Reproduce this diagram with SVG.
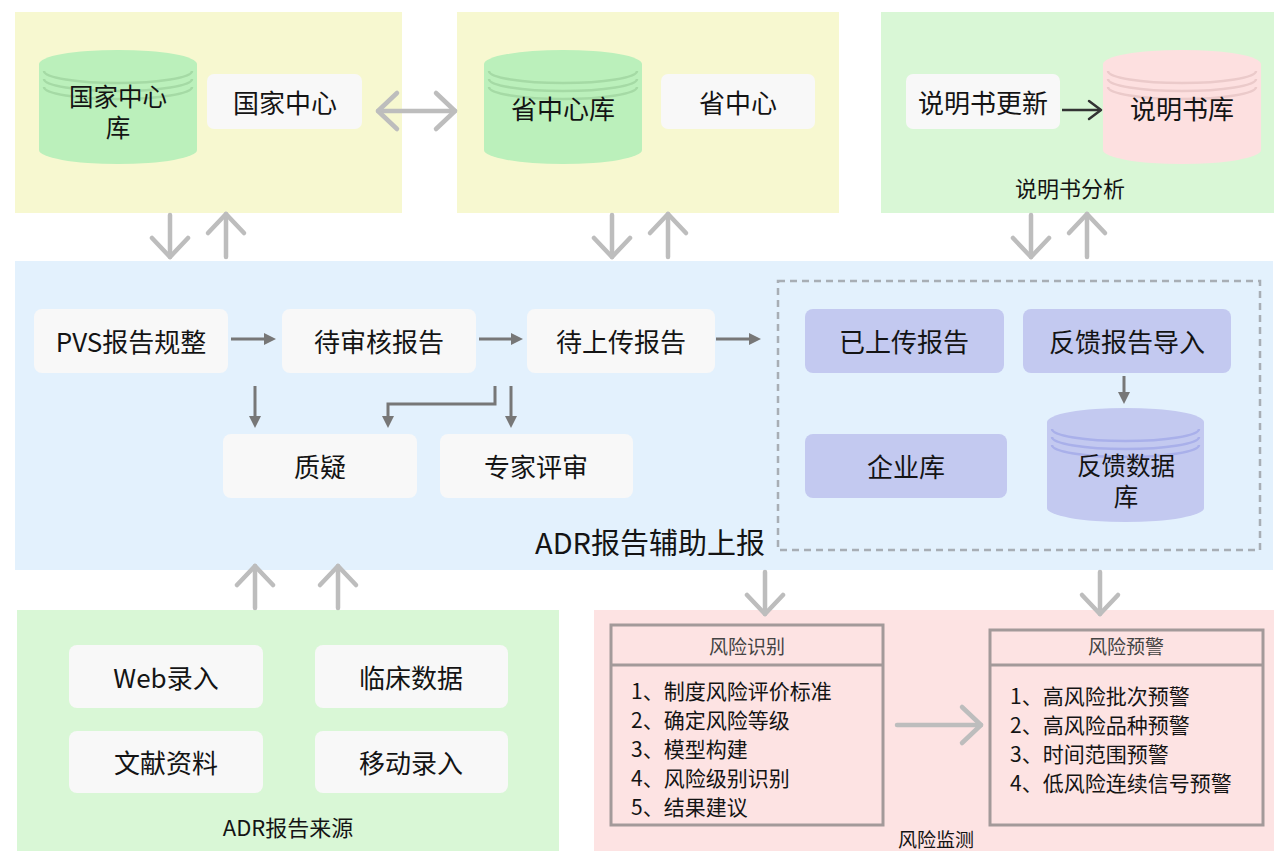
<svg xmlns="http://www.w3.org/2000/svg" width="1274" height="851" viewBox="0 0 1274 851">
<defs>
<style>
text{font-family:"Noto Sans CJK SC","Noto Sans",sans-serif;fill:#141414;dominant-baseline:central;text-anchor:middle}
.t{font-size:26px}
.c{font-size:24.5px}
.lbl{font-size:22px}
.item{font-size:21px;text-anchor:start}
.hdr{font-size:19px;fill:#444}
.box{fill:#f8f8f8}
.pbox{fill:#c3c9f0}
.big{fill:none;stroke:#bdbdbd;stroke-width:4.5;stroke-linecap:round}
.thin{fill:none;stroke:#777;stroke-width:3}
.rbox{fill:none;stroke:#a39a9a;stroke-width:3}
</style>
<marker id="chev" viewBox="-24 -24 28 48" refX="0" refY="0" markerWidth="28" markerHeight="48" markerUnits="userSpaceOnUse" orient="auto-start-reverse" overflow="visible">
<path d="M-19,-18 L0,0 L-19,18" fill="none" stroke="#bdbdbd" stroke-width="4.5" stroke-linecap="round" stroke-linejoin="round"/>
</marker>
<marker id="chevDark" viewBox="-16 -12 20 24" refX="0" refY="0" markerWidth="20" markerHeight="24" markerUnits="userSpaceOnUse" orient="auto" overflow="visible">
<path d="M-12,-9 L0,0 L-12,9" fill="none" stroke="#333" stroke-width="2.5" stroke-linecap="round" stroke-linejoin="round"/>
</marker>
<marker id="tri" viewBox="0 0 12 12" refX="4" refY="6" markerWidth="12" markerHeight="12" markerUnits="userSpaceOnUse" orient="auto">
<path d="M0,0 L12,6 L0,12 z" fill="#777"/>
</marker>
</defs>

<!-- panels -->
<g id="panel-national"><rect x="15" y="12" width="387" height="201" fill="#f7f8d0"/></g>
<g id="panel-province"><rect x="457" y="12" width="382" height="201" fill="#f7f8d0"/></g>
<g id="panel-manual"><rect x="881" y="12" width="393" height="201" fill="#d9f7d6"/>
<text class="lbl" x="1070" y="187">说明书分析</text></g>
<g id="panel-adr"><rect x="15" y="261" width="1258" height="309" fill="#e3f1fd"/>
<text x="765" y="541" style="font-size:29px;text-anchor:end">ADR报告辅助上报</text></g>
<g id="panel-source"><rect x="17" y="610" width="542" height="241" fill="#d9f7d6"/>
<text class="lbl" x="288" y="826">ADR报告来源</text></g>
<g id="panel-risk"><rect x="594" y="610" width="680" height="241" fill="#fde3e3"/>
<text x="936" y="838" style="font-size:19px">风险监测</text></g>

<!-- cylinders -->
<g id="db-national">
<path d="M39,64 A79,14 0 0 1 197,64 V150 A79,14 0 0 1 39,150 Z" fill="#bbf0bb"/>
<g fill="none" stroke="#a5daa5" stroke-width="2.5"><path d="M44,71 A74,12 0 0 0 192,71"/><path d="M44,79 A74,12 0 0 0 192,79"/><path d="M44,87 A74,12 0 0 0 192,87"/></g>
<text class="c"><tspan x="118" y="95">国家中心</tspan><tspan x="118" y="126">库</tspan></text>
</g>
<g id="db-province">
<path d="M484,64 A79,14 0 0 1 642,64 V150 A79,14 0 0 1 484,150 Z" fill="#bbf0bb"/>
<g fill="none" stroke="#a5daa5" stroke-width="2.5"><path d="M489,71 A74,12 0 0 0 637,71"/><path d="M489,79 A74,12 0 0 0 637,79"/><path d="M489,87 A74,12 0 0 0 637,87"/></g>
<text class="t" x="563" y="107">省中心库</text>
</g>
<g id="db-manual">
<path d="M1103,64 A79,14 0 0 1 1261,64 V150 A79,14 0 0 1 1103,150 Z" fill="#fde0e0"/>
<g fill="none" stroke="#ebcaca" stroke-width="2.5"><path d="M1108,71 A74,12 0 0 0 1256,71"/><path d="M1108,79 A74,12 0 0 0 1256,79"/><path d="M1108,87 A74,12 0 0 0 1256,87"/></g>
<text class="t" x="1182" y="107">说明书库</text>
</g>
<g id="db-feedback">
<path d="M1047,422 A78.5,14 0 0 1 1204,422 V508 A78.5,14 0 0 1 1047,508 Z" fill="#c3c9f0"/>
<g fill="none" stroke="#a9b0ea" stroke-width="2.5"><path d="M1052,429 A73.5,12 0 0 0 1199,429"/><path d="M1052,437 A73.5,12 0 0 0 1199,437"/><path d="M1052,445 A73.5,12 0 0 0 1199,445"/></g>
<text class="c"><tspan x="1126" y="464">反馈数据</tspan><tspan x="1126" y="495">库</tspan></text>
</g>

<!-- boxes -->
<g id="n-national"><rect class="box" x="207" y="74" width="155" height="55" rx="7"/><text class="t" x="285" y="101">国家中心</text></g>
<g id="n-province"><rect class="box" x="661" y="74" width="154" height="55" rx="7"/><text class="t" x="738" y="101">省中心</text></g>
<g id="n-update"><rect class="box" x="906" y="74" width="154" height="55" rx="7"/><text class="t" x="983" y="101">说明书更新</text></g>

<g id="n-pvs"><rect class="box" x="34" y="309" width="194" height="64" rx="8"/><text class="t" x="131" y="340">PVS报告规整</text></g>
<g id="n-review"><rect class="box" x="282" y="309" width="194" height="64" rx="8"/><text class="t" x="379" y="340">待审核报告</text></g>
<g id="n-toupload"><rect class="box" x="527" y="309" width="188" height="64" rx="8"/><text class="t" x="621" y="340">待上传报告</text></g>
<g id="n-query"><rect class="box" x="223" y="434" width="194" height="64" rx="8"/><text class="t" x="320" y="465">质疑</text></g>
<g id="n-expert"><rect class="box" x="440" y="434" width="193" height="64" rx="8"/><text class="t" x="536" y="465">专家评审</text></g>

<g id="dashed-group"><rect x="778" y="281" width="482" height="269" fill="none" stroke="#a8aeb5" stroke-width="2.5" stroke-dasharray="7 5"/></g>
<g id="n-uploaded"><rect class="pbox" x="805" y="309" width="199" height="64" rx="8"/><text class="t" x="904" y="340">已上传报告</text></g>
<g id="n-feedback"><rect class="pbox" x="1023" y="309" width="208" height="64" rx="8"/><text class="t" x="1127" y="340">反馈报告导入</text></g>
<g id="n-enterprise"><rect class="pbox" x="805" y="434" width="202" height="64" rx="8"/><text class="t" x="906" y="465">企业库</text></g>

<g id="n-web"><rect class="box" x="69" y="645" width="194" height="63" rx="8"/><text class="t" x="166" y="676">Web录入</text></g>
<g id="n-clinical"><rect class="box" x="315" y="645" width="193" height="63" rx="8"/><text class="t" x="411" y="676">临床数据</text></g>
<g id="n-literature"><rect class="box" x="69" y="731" width="194" height="62" rx="8"/><text class="t" x="166" y="761">文献资料</text></g>
<g id="n-mobile"><rect class="box" x="315" y="731" width="193" height="62" rx="8"/><text class="t" x="411" y="761">移动录入</text></g>

<g id="n-risk-id">
<rect class="rbox" x="611" y="625" width="272" height="200"/>
<line class="rbox" x1="611" y1="665" x2="883" y2="665"/>
<text class="hdr" x="747" y="645">风险识别</text>
<text class="item" x="631" y="690">1、制度风险评价标准</text>
<text class="item" x="631" y="719">2、确定风险等级</text>
<text class="item" x="631" y="748">3、模型构建</text>
<text class="item" x="631" y="777">4、风险级别识别</text>
<text class="item" x="631" y="806">5、结果建议</text>
</g>
<g id="n-risk-warn">
<rect class="rbox" x="990" y="630" width="273" height="195"/>
<line class="rbox" x1="990" y1="665" x2="1263" y2="665"/>
<text class="hdr" x="1126" y="645">风险预警</text>
<text class="item" x="1010" y="695">1、高风险批次预警</text>
<text class="item" x="1010" y="724">2、高风险品种预警</text>
<text class="item" x="1010" y="753">3、时间范围预警</text>
<text class="item" x="1010" y="782">4、低风险连续信号预警</text>
</g>

<!-- connectors -->
<g id="connectors">
<line class="big" x1="378" y1="111" x2="455" y2="111" marker-start="url(#chev)" marker-end="url(#chev)"/>
<line x1="1062" y1="110" x2="1101" y2="110" stroke="#333" stroke-width="2.5" marker-end="url(#chevDark)"/>

<line class="big" x1="170" y1="215" x2="170" y2="257" marker-end="url(#chev)"/>
<line class="big" x1="226" y1="257" x2="226" y2="214" marker-end="url(#chev)"/>
<line class="big" x1="612" y1="215" x2="612" y2="257" marker-end="url(#chev)"/>
<line class="big" x1="668" y1="257" x2="668" y2="214" marker-end="url(#chev)"/>
<line class="big" x1="1031" y1="215" x2="1031" y2="257" marker-end="url(#chev)"/>
<line class="big" x1="1087" y1="257" x2="1087" y2="214" marker-end="url(#chev)"/>

<line class="big" x1="255" y1="608" x2="255" y2="566" marker-end="url(#chev)"/>
<line class="big" x1="338" y1="608" x2="338" y2="566" marker-end="url(#chev)"/>
<line class="big" x1="765" y1="572" x2="765" y2="614" marker-end="url(#chev)"/>
<line class="big" x1="1100" y1="572" x2="1100" y2="614" marker-end="url(#chev)"/>
<line class="big" x1="897" y1="725" x2="981" y2="725" marker-end="url(#chev)"/>

<line class="thin" x1="231" y1="339" x2="268" y2="339" marker-end="url(#tri)"/>
<line class="thin" x1="479" y1="339" x2="515" y2="339" marker-end="url(#tri)"/>
<line class="thin" x1="716" y1="339" x2="753" y2="339" marker-end="url(#tri)"/>
<line class="thin" x1="255" y1="386" x2="255" y2="420" marker-end="url(#tri)"/>
<path class="thin" d="M495,386 V404 H388 V420" marker-end="url(#tri)"/>
<line class="thin" x1="511" y1="386" x2="511" y2="420" marker-end="url(#tri)"/>
<line class="thin" x1="1124" y1="376" x2="1124" y2="396" marker-end="url(#tri)"/>
</g>
</svg>
